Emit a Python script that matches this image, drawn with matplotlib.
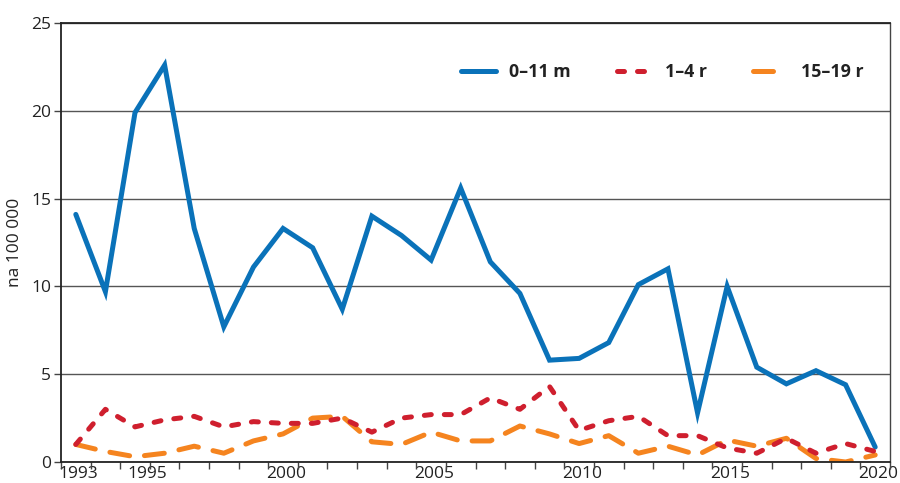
import matplotlib
matplotlib.use("Agg")
import matplotlib.pyplot as plt
from matplotlib.ticker import FixedLocator

plt.rcParams['font.family'] = ['Open Sans', 'DejaVu Sans']

years = list(range(1993, 2021))
infants = [14.1, 9.7, 19.9, 22.6, 13.3, 7.7, 11.1, 13.3, 12.2, 8.7, 14.0, 12.9, 11.5, 15.6,
           11.4, 9.6, 5.8, 5.9, 6.8, 10.1, 11.0, 2.8, 10.0, 5.4, 4.45, 5.2, 4.4, 0.85]
kids = [1.0, 3.0, 2.0, 2.4, 2.6, 2.0, 2.3, 2.2, 2.2, 2.5, 1.7, 2.5, 2.7, 2.7,
        3.65, 3.0, 4.3, 1.8, 2.35, 2.6, 1.5, 1.5, 0.8, 0.5, 1.35, 0.5, 1.05, 0.6]
teens = [1.0, 0.6, 0.3, 0.5, 0.9, 0.5, 1.2, 1.6, 2.5, 2.6, 1.15, 1.0, 1.7, 1.2,
         1.2, 2.05, 1.6, 1.05, 1.5, 0.5, 0.9, 0.4, 1.25, 0.9, 1.35, 0.2, 0.0, 0.4]
series_labels = ['0–11 m', '1–4 r', '15–19 r']
year_labels = [1993, 1995, 2000, 2005, 2010, 2015, 2020]
y_ticks = [0, 5, 10, 15, 20, 25]

fig = plt.figure(figsize=(9, 4.83), dpi=100)
ax = fig.add_axes([61/900, 1-462/483, (890-61)/900, (462-23)/483])

lw = 3.6
ax.plot(years, infants, color='#0a72b9', lw=lw, solid_capstyle='round', solid_joinstyle='miter',
        label=series_labels[0], zorder=3)
ax.plot(years, kids, color='#cf1f2e', lw=lw, dashes=(1.4, 2.6), dash_capstyle='round',
        label=series_labels[1], zorder=3)
ax.plot(years, teens, color='#f5841f', lw=lw, dashes=(4, 3), dash_capstyle='round',
        label=series_labels[2], zorder=2)

ax.set_xlim(1992.5, 2020.5)
ax.set_ylim(0, 25)
ax.set_yticks(y_ticks)
# label placement as in the original (slightly right of the category centre)
label_pos = [y + (0.4 if y == 1995 else 0.1) for y in year_labels]
ax.set_xticks(label_pos, [str(y) for y in year_labels])
ax.xaxis.set_minor_locator(FixedLocator([y + 0.5 for y in range(1992, 2021)]))
ax.tick_params(axis='x', which='major', length=0, pad=3, labelsize=12.5, colors='#222222')
ax.tick_params(axis='x', which='minor', length=5, width=1, color='#444444', direction='out')
ax.tick_params(axis='y', length=5, width=1, color='#444444', labelsize=12.5, pad=2,
               labelcolor='#222222')
ax.grid(axis='y', color='#555555', lw=1)
ax.set_axisbelow(True)
for s in ['left', 'bottom', 'top']:
    ax.spines[s].set_color('#222222')
    ax.spines[s].set_linewidth(1.3)
ax.spines['right'].set_color('#444444')
ax.spines['right'].set_linewidth(1.0)

ax.set_ylabel('na 100 000', fontsize=12.5, color='#222222', labelpad=6)

leg = ax.legend(loc='center right', bbox_to_anchor=(0.968, 0.888), ncol=3, frameon=False,
                handlelength=2.0, columnspacing=2.6, handletextpad=0.7,
                borderaxespad=0, borderpad=0,
                prop={'weight': 'bold', 'size': 12.8})
for t in leg.get_texts():
    t.set_color('#222222')

fig.savefig('out.png', dpi=100)
